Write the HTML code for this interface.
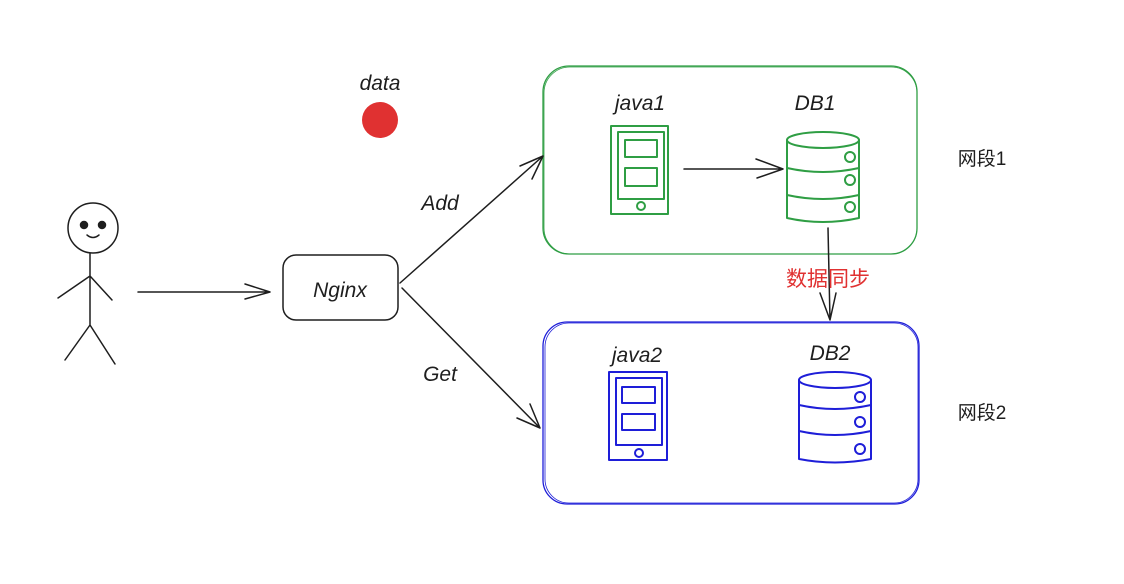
<!DOCTYPE html>
<html><head><meta charset="utf-8"><style>
html,body{margin:0;padding:0;background:#fff;width:1124px;height:584px;overflow:hidden}
text{font-family:"Liberation Sans","Noto Sans CJK SC",sans-serif}
</style></head><body>
<svg width="1124" height="584" viewBox="0 0 1124 584" xmlns="http://www.w3.org/2000/svg" fill="none" stroke-linecap="round" stroke-linejoin="round">
<rect x="543" y="66" width="374" height="188" rx="26" stroke="#2f9e44" stroke-width="1.3"/>
<rect x="544" y="67" width="373" height="187" rx="26" stroke="#2f9e44" stroke-width="0.8"/>
<rect x="543" y="322" width="376" height="182" rx="24" stroke="#1e1ed8" stroke-width="1.3"/>
<rect x="545" y="323" width="373" height="180" rx="24" stroke="#1e1ed8" stroke-width="0.8"/>
<g stroke="#2f9e44" stroke-width="2">
<rect x="611" y="126" width="57" height="88"/>
<rect x="618" y="132" width="46" height="67"/>
<rect x="625" y="140" width="32" height="17"/>
<rect x="625" y="168" width="32" height="18"/>
<circle cx="641" cy="206" r="4"/>
</g>
<g stroke="#2f9e44" stroke-width="2">
<ellipse cx="823" cy="140" rx="36" ry="8"/>
<path d="M787 140 V218 Q823 226 859 218 V140"/>
<path d="M787 168 Q823 176 859 168"/>
<path d="M787 195 Q823 203 859 195"/>
<circle cx="850" cy="157" r="5"/><circle cx="850" cy="180" r="5"/><circle cx="850" cy="207" r="5"/>
</g>
<g stroke="#1e1ed8" stroke-width="2">
<rect x="609" y="372" width="58" height="88"/>
<rect x="616" y="378" width="46" height="67"/>
<rect x="622" y="387" width="33" height="16"/>
<rect x="622" y="414" width="33" height="16"/>
<circle cx="639" cy="453" r="4"/>
</g>
<g stroke="#1e1ed8" stroke-width="2">
<ellipse cx="835" cy="380" rx="36" ry="8"/>
<path d="M799 380 V459 Q835 466 871 459 V380"/>
<path d="M799 405 Q835 413 871 405"/>
<path d="M799 431 Q835 439 871 431"/>
<circle cx="860" cy="397" r="5"/><circle cx="860" cy="422" r="5"/><circle cx="860" cy="449" r="5"/>
</g>
<g stroke="#1e1e1e" stroke-width="1.5">
<path d="M684 169 H783 M756 159 L783 169 L757 178"/>
<path d="M828 228 L830 320 M820 293 L830 320 L836 293"/>
<path d="M138 292 H270 M245 284 L270 292 L245 299"/>
<path d="M400 283 L543 156 M520 166 L543 156 L532 179"/>
<path d="M402 288 L540 428 M530 404 L540 428 L517 418"/>
<rect x="283" y="255" width="115" height="65" rx="13"/>
<circle cx="93" cy="228" r="25"/>
<path d="M90 253 L90 325 M90 276 L58 298 M90 276 L112 300 M90 325 L65 360 M90 325 L115 364"/>
<circle cx="84" cy="225" r="3.5" fill="#1e1e1e"/><circle cx="102" cy="225" r="3.5" fill="#1e1e1e"/>
<path d="M87 235 Q93 240 99 235"/>
</g>
<circle cx="380" cy="120" r="18" fill="#e03131"/>
<g fill="#1e1e1e" font-size="21" text-anchor="middle" font-style="italic">
<text x="380" y="90">data</text>
<text x="640" y="110">java1</text>
<text x="815" y="110">DB1</text>
<text x="637" y="362">java2</text>
<text x="830" y="360">DB2</text>
<text x="440" y="210">Add</text>
<text x="440" y="381">Get</text>
<text x="340" y="297">Nginx</text>
</g>
<g font-size="19" text-anchor="middle">
<text x="982" y="165" fill="#1e1e1e">网段1</text>
<text x="982" y="419" fill="#1e1e1e">网段2</text>
<text x="828" y="286" fill="#e03131" font-size="21">数据同步</text>
</g>
</svg>
</body></html>
